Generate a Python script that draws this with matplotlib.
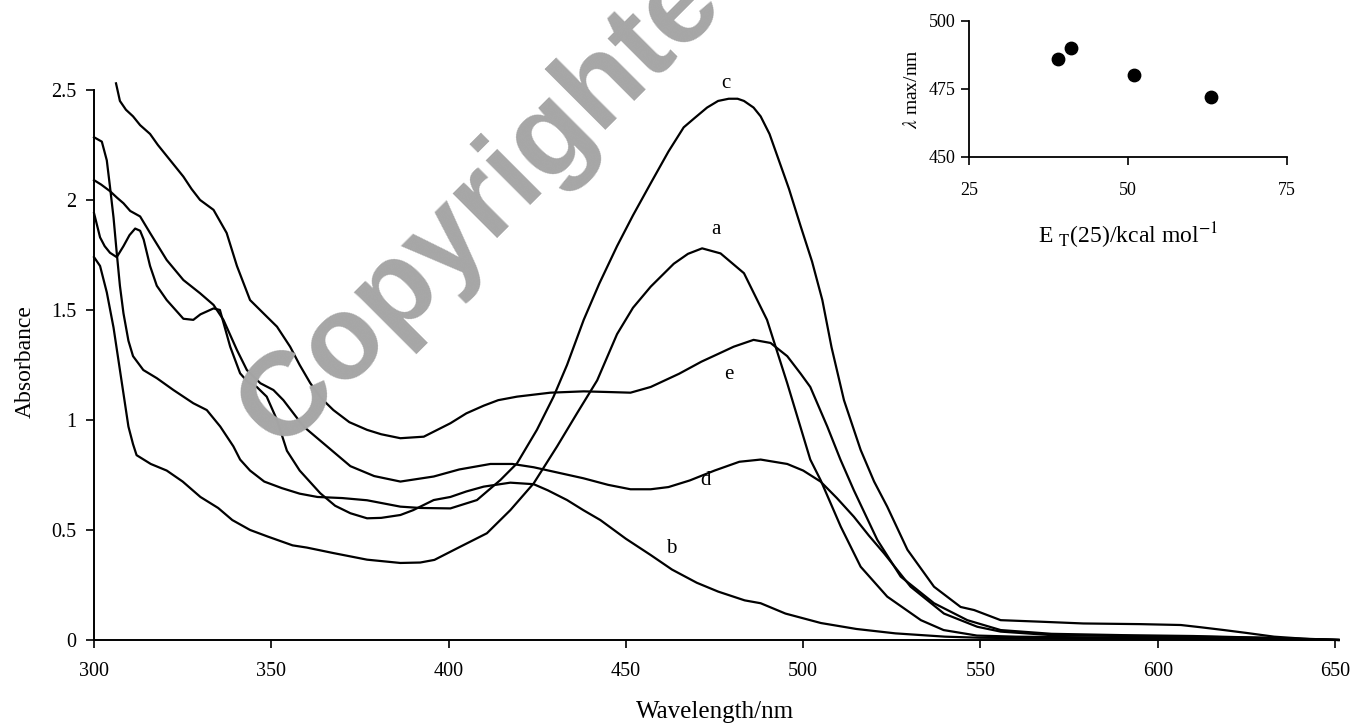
import matplotlib
matplotlib.use('Agg')
import matplotlib.pyplot as plt

plt.rcParams['font.family'] = ['Liberation Serif', 'DejaVu Serif']
plt.rcParams['mathtext.fontset'] = 'stix'

# ---------------- data ----------------
wl_a = [300, 301.7, 303.6, 305.5, 306.9, 308.3, 309.7, 311, 312, 314, 316, 320.5, 325, 330, 335, 339,
        344, 349, 356, 360, 367.5, 377, 386.4, 392, 396, 403.3, 410.8, 417.4, 424, 430.6, 436.2, 441.9,
        447.5, 452, 457, 463.5, 467.5, 471.5, 476.7, 483.3, 489.8, 495.5, 502, 504.9, 510.6, 516.2,
        523.7, 533.2, 539.6, 549, 560, 580, 600, 620, 640, 651]
abs_a = [1.74, 1.70, 1.58, 1.42, 1.27, 1.12, 0.97, 0.89, 0.84, 0.82, 0.80, 0.77, 0.72, 0.65, 0.60, 0.545,
         0.50, 0.47, 0.43, 0.42, 0.395, 0.365, 0.35, 0.352, 0.364, 0.424, 0.485, 0.59, 0.712, 0.88, 1.03, 1.18,
         1.39, 1.51, 1.606, 1.71, 1.755, 1.78, 1.757, 1.667, 1.455, 1.167, 0.82, 0.727, 0.515, 0.333,
         0.197, 0.09, 0.045, 0.02, 0.015, 0.012, 0.01, 0.008, 0.004, 0.0]

wl_b = [300, 301.7, 303, 304.5, 306.4, 308.3, 310, 311.6, 313, 314, 315.8, 317.7, 320.5, 325.2, 328, 330,
        333.7, 335.5, 338.4, 341.2, 343.5, 345.9, 348.7, 351.6, 354.4, 358, 363.8, 368, 372.3, 377, 381,
        386.4, 390, 395.8, 400.5, 405, 409.9, 417.4, 424, 428, 433.4, 438, 442.8, 450, 457, 463, 470, 476,
        483.5, 488, 495, 505, 515, 526, 540, 550, 575, 600, 625, 651]
abs_b = [1.94, 1.83, 1.79, 1.76, 1.74, 1.79, 1.84, 1.87, 1.86, 1.82, 1.70, 1.61, 1.545, 1.46, 1.455, 1.48,
         1.507, 1.50, 1.333, 1.212, 1.17, 1.15, 1.106, 1.0, 0.86, 0.77, 0.667, 0.61, 0.576, 0.553, 0.555,
         0.568, 0.59, 0.636, 0.65, 0.675, 0.697, 0.715, 0.708, 0.68, 0.636, 0.59, 0.545, 0.46, 0.386, 0.32, 0.26, 0.22,
         0.18, 0.167, 0.12, 0.077, 0.05, 0.03, 0.015, 0.01, 0.007, 0.005, 0.003, 0.0]

wl_c = [300, 302.2, 303.6, 304.5, 305.5, 306.4, 307.3, 308.3, 309.7, 311, 313.9, 317.7, 322.4, 328, 331.8,
        335.6, 339.3, 341.2, 344, 348, 353, 358, 363, 370, 377, 386.4, 392, 400.5, 408, 414.6, 419.3, 424.9,
        429.6, 433.4, 438.1, 442.5, 447.5, 452, 457, 462, 466.3, 469.2, 472.9, 476, 479, 481.5, 483.3, 486, 488,
        490.5, 492.7, 496, 499.3, 502.5, 505.4, 508, 511.5, 516.2, 520, 523.7, 529.4, 536.9, 544.4, 548.2,
        555.7, 567, 579, 595, 606.5, 612, 618.7, 625, 632.8, 641, 651]
abs_c = [2.285, 2.265, 2.18, 2.06, 1.92, 1.76, 1.61, 1.485, 1.36, 1.29, 1.227, 1.19, 1.136, 1.076, 1.045,
         0.97, 0.88, 0.82, 0.77, 0.72, 0.69, 0.665, 0.65, 0.645, 0.635, 0.606, 0.60, 0.598, 0.636, 0.727, 0.803, 0.955,
         1.106, 1.25, 1.455, 1.62, 1.79, 1.93, 2.076, 2.22, 2.33, 2.37, 2.42, 2.45, 2.46, 2.46, 2.45, 2.42, 2.38,
         2.30, 2.2, 2.05, 1.88, 1.72, 1.545, 1.33, 1.09, 0.864, 0.72, 0.606, 0.41, 0.242, 0.15, 0.136,
         0.09, 0.083, 0.075, 0.072, 0.068, 0.058, 0.045, 0.032, 0.015, 0.006, 0.0]

wl_d = [300, 302, 304.5, 306.5, 308.3, 310.2, 313, 315.8, 320.5, 325.2, 329.9, 333.7, 336.5, 340.3, 343.1,
        346.9, 350.6, 353.4, 359.1, 365.7, 372.3, 379, 386.4, 395.8, 403, 411.8, 418, 424, 431, 438, 445,
        451.3, 457, 462, 468, 475, 482, 488, 495.5, 500, 504.9, 509.5, 514.3, 518.5, 522.8, 530.3, 539.7,
        549.1, 555.7, 570, 590, 610, 630, 651]
abs_d = [2.09, 2.07, 2.04, 2.01, 1.985, 1.95, 1.925, 1.85, 1.727, 1.636, 1.576, 1.523, 1.455, 1.318, 1.227,
         1.167, 1.136, 1.09, 0.97, 0.88, 0.79, 0.745, 0.72, 0.743, 0.775, 0.80, 0.80, 0.785, 0.76, 0.735, 0.705,
         0.685, 0.685, 0.695, 0.725, 0.77, 0.81, 0.82, 0.80, 0.77, 0.72, 0.645, 0.56, 0.475, 0.394, 0.242, 0.12,
         0.06, 0.038, 0.022, 0.018, 0.015, 0.01, 0.0]

wl_e = [306.2, 307.3, 309, 311, 313, 315.8, 318, 320.5, 323, 325.2, 327.5, 329.9, 333.7, 337.4, 340.3, 344,
        348.7, 351.6, 355.3, 358, 361, 364, 367.5, 372, 377, 381, 386.4, 393, 400.5, 405, 409.9, 414, 419.3,
        428.7, 438.1, 445, 451.3, 457, 465, 471.3, 476, 480.4, 486, 490.8, 495.5, 499.3, 502, 506.8, 510.5,
        514.3, 520.9, 527.5, 536.9, 546.3, 555.7, 570, 590, 610, 630, 651]
abs_e = [2.53, 2.45, 2.41, 2.38, 2.34, 2.30, 2.25, 2.2, 2.15, 2.106, 2.05, 2.0, 1.955, 1.85, 1.70, 1.545,
         1.47, 1.424, 1.333, 1.25, 1.167, 1.10, 1.045, 0.99, 0.955, 0.935, 0.917, 0.924, 0.985, 1.03, 1.065, 1.09, 1.106,
         1.124, 1.13, 1.127, 1.124, 1.15, 1.21, 1.265, 1.30, 1.333, 1.364, 1.35, 1.29, 1.21, 1.15, 0.97, 0.82,
         0.68, 0.455, 0.288, 0.167, 0.09, 0.045, 0.028, 0.022, 0.018, 0.01, 0.0]

curve_names = ['a', 'b', 'c', 'd', 'e']
label_pos = {'c': (478.1, 2.53), 'a': (475.3, 1.864), 'e': (478.9, 1.205),
             'd': (472.5, 0.723), 'b': (462.9, 0.418)}

x_ticks = [300, 350, 400, 450, 500, 550, 600, 650]
y_ticks = [0, 0.5, 1, 1.5, 2, 2.5]
y_tick_labels = ['0', '0.5', '1', '1.5', '2', '2.5']

# inset data
et30 = [39.0, 41.0, 50.9, 63.1]
lam_max = [486, 490, 480, 472]
inset_x_ticks = [25, 50, 75]
inset_y_ticks = [450, 475, 500]

# ---------------- figure ----------------
fig = plt.figure(figsize=(13.51, 7.26), dpi=100)

# watermark (behind the curves)
fig.text(0.207, 0.378, 'Copyrighted', family='Liberation Sans', fontsize=86,
         fontweight='bold', color='#a6a6a6', rotation=45, rotation_mode='anchor',
         ha='left', va='baseline', zorder=0)

ax = fig.add_axes([0.0696, 0.1185, 0.9186, 0.7667])
ax.patch.set_alpha(0)
series = {'a': (wl_a, abs_a), 'b': (wl_b, abs_b), 'c': (wl_c, abs_c),
          'd': (wl_d, abs_d), 'e': (wl_e, abs_e)}
for name in curve_names:
    wl, ab = series[name]
    ax.plot(wl, ab, color='black', lw=1.6, solid_joinstyle='round', clip_on=False)
    lx, ly = label_pos[name]
    ax.text(lx, ly, name, fontsize=15, ha='center', va='center', clip_on=False)

ax.set_xlim(300, 650)
ax.set_ylim(0, 2.53)
ax.spines['left'].set_bounds(0, 2.5)
for s in ['top', 'right']:
    ax.spines[s].set_visible(False)
for s in ['left', 'bottom']:
    ax.spines[s].set_linewidth(1.4)
ax.set_xticks(x_ticks)
ax.set_xticklabels([str(v) for v in x_ticks])
ax.set_yticks(y_ticks)
ax.set_yticklabels(y_tick_labels)
ax.tick_params(axis='both', direction='out', length=6, width=1.2, labelsize=14.5)
ax.tick_params(axis='x', pad=10)
ax.tick_params(axis='y', pad=7)
ax.set_xlabel('Wavelength/nm', fontsize=18, labelpad=14)
ax.set_ylabel('Absorbance', fontsize=17, labelpad=11)

# inset
axi = fig.add_axes([0.7172, 0.7842, 0.2354, 0.1869])
axi.patch.set_alpha(0)
axi.scatter(et30, lam_max, s=80, color='black', zorder=3, clip_on=False)
axi.set_xlim(25, 75)
axi.set_ylim(450, 500)
for s in ['top', 'right']:
    axi.spines[s].set_visible(False)
for s in ['left', 'bottom']:
    axi.spines[s].set_linewidth(1.3)
axi.set_xticks(inset_x_ticks)
axi.set_xticklabels([str(v) for v in inset_x_ticks])
axi.set_yticks(inset_y_ticks)
axi.set_yticklabels([str(v) for v in inset_y_ticks])
axi.tick_params(axis='both', direction='out', length=6, width=1.2, labelsize=13)
axi.tick_params(axis='x', pad=12)
axi.set_xlabel(r'E $_{\mathrm{T}}$(25)/kcal mol$^{\mathrm{-1}}$', fontsize=17, labelpad=16)
axi.set_ylabel(r'$\lambda$ max/nm', fontsize=14, labelpad=6)

fig.savefig('out.png', dpi=100)
